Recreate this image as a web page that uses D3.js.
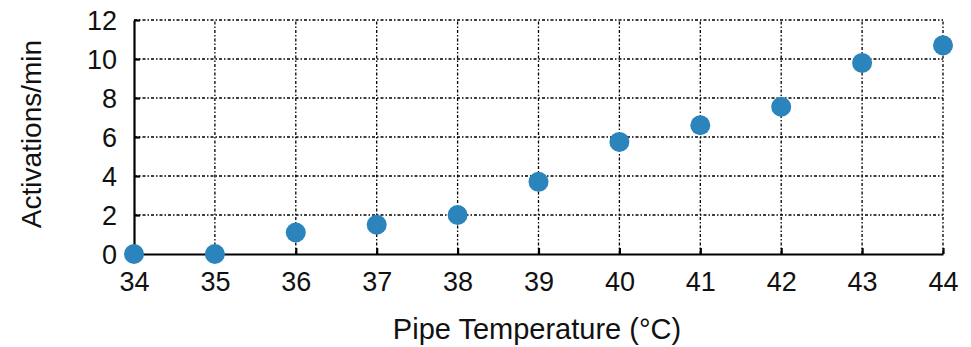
<!DOCTYPE html>
<html><head><meta charset="utf-8">
<script src="https://cdn.jsdelivr.net/npm/d3@7/dist/d3.min.js"></script>
<style>
body{margin:0;background:#fff;}
text{font-family:"Liberation Sans",Arial,sans-serif;fill:#111;}
</style></head><body>
<svg id="c" width="971" height="347"></svg>
<script>
const temperatures = [34,35,36,37,38,39,40,41,42,43,44];
const activations = [0,0,1.1,1.5,2.0,3.7,5.75,6.6,7.55,9.8,10.7];
const xTicks = [34,35,36,37,38,39,40,41,42,43,44];
const yTicks = [0,2,4,6,8,10,12];
const xTitle = "Pipe Temperature (°C)";
const yTitle = "Activations/min";

const svg = d3.select("#c");
const x = d3.scaleLinear().domain([34,44]).range([134,943]);
const y = d3.scaleLinear().domain([0,12]).range([254,20]);

const grid = svg.append("g").attr("stroke","#000").attr("stroke-width",1.3)
  .attr("stroke-dasharray","3,2,1.5,2");
grid.selectAll(".h").data(yTicks.filter(d=>d>0)).join("line")
  .attr("x1",x(34)).attr("x2",x(44)).attr("y1",d=>y(d)).attr("y2",d=>y(d));
grid.selectAll(".v").data(xTicks.filter(d=>d>34)).join("line")
  .attr("y1",y(0)).attr("y2",y(12)).attr("x1",d=>x(d)).attr("x2",d=>x(d));

const xAxis = svg.append("g").attr("transform",`translate(0,${y(0)})`)
  .call(d3.axisBottom(x).tickValues(xTicks).tickFormat(d3.format("d")).tickSizeInner(-6).tickSizeOuter(0).tickPadding(14));
const yAxis = svg.append("g").attr("transform",`translate(${x(34)},0)`)
  .call(d3.axisLeft(y).tickValues(yTicks).tickSizeInner(-6).tickSizeOuter(0).tickPadding(17));
[xAxis,yAxis].forEach(a=>{
  a.select(".domain").attr("stroke","#000").attr("stroke-width",2.2);
  a.selectAll(".tick line").attr("stroke","#000").attr("stroke-width",2.2);
  a.selectAll(".tick text").attr("font-size",27).attr("fill","#111")
   .style("font-family","'Liberation Sans',Arial,sans-serif");
});
xAxis.selectAll(".tick text").attr("dy","0.85em");
yAxis.selectAll(".tick text").attr("dy","0.36em");

svg.append("g").selectAll("circle").data(temperatures).join("circle")
  .attr("cx",(d)=>x(d)).attr("cy",(d,i)=>y(activations[i])).attr("r",10)
  .attr("fill","#2c84bd");

svg.append("text").attr("x",537).attr("y",339).attr("text-anchor","middle")
  .attr("font-size",29).text(xTitle);
svg.append("text").attr("transform","translate(41,134) rotate(-90)")
  .attr("text-anchor","middle").attr("font-size",28).text(yTitle);
</script></body></html>
